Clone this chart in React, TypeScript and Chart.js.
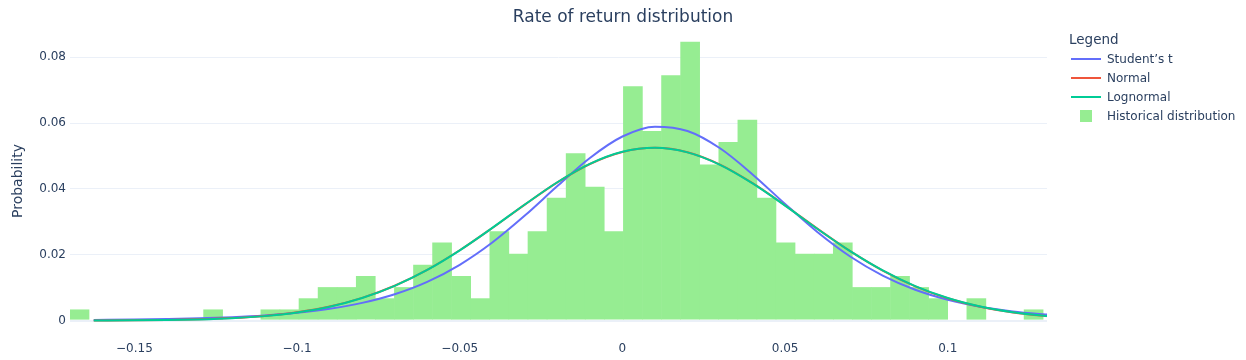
import React, { useEffect, useRef } from "react";
import { Chart, registerables } from "chart.js";

Chart.register(...registerables);

// Histogram bins (Plotly-style xbins start / size)
const binStart = -0.1698;
const binSize = 0.005865;
const histProb = [
  0.00339, 0, 0, 0, 0, 0, 0, 0.00339, 0, 0,
  0.00339, 0.00339, 0.00678, 0.01017, 0.01017, 0.01356, 0.00678, 0.01017, 0.01695, 0.02373,
  0.01356, 0.00678, 0.02712, 0.02034, 0.02712, 0.03729, 0.05085, 0.04068, 0.02712, 0.07119,
  0.05763, 0.07458, 0.08475, 0.04746, 0.05424, 0.06102, 0.03729, 0.02373, 0.02034, 0.02034,
  0.02373, 0.01017, 0.01017, 0.01356, 0.01017, 0.00678, 0, 0.00678, 0, 0,
  0.00339,
];

// Fitted curves, read at these x positions
const curveX = [
  -0.1625, -0.15, -0.14, -0.13, -0.12, -0.11, -0.1, -0.09, -0.08, -0.07,
  -0.06, -0.05, -0.04, -0.03, -0.02, -0.01, 0, 0.01, 0.02, 0.03,
  0.04, 0.05, 0.06, 0.07, 0.08, 0.09, 0.1, 0.11, 0.12, 0.13, 0.1305,
];
const studentT = [
  0.0002, 0.00032, 0.00048, 0.0007, 0.00105, 0.00158, 0.00238, 0.00358, 0.00538, 0.00801,
  0.01178, 0.01696, 0.02372, 0.0319, 0.04087, 0.04941, 0.05593, 0.05891, 0.05761, 0.05236,
  0.04442, 0.03544, 0.02684, 0.01948, 0.01368, 0.00937, 0.00632, 0.00421, 0.0028, 0.00186, 0.00182,
];
const normal = [
  0.00003, 0.00009, 0.00019, 0.00039, 0.00076, 0.00142, 0.00254, 0.00429, 0.00692, 0.0106,
  0.01543, 0.02137, 0.02815, 0.03525, 0.042, 0.04758, 0.05125, 0.0525, 0.05115, 0.04738,
  0.04174, 0.03498, 0.02787, 0.02111, 0.01522, 0.01042, 0.00679, 0.00421, 0.00248, 0.00139, 0.00135,
];
const lognormal = [
  0.00002, 0.00007, 0.00016, 0.00035, 0.00071, 0.00136, 0.00248, 0.00423, 0.00687, 0.01056,
  0.0154, 0.02136, 0.02816, 0.03528, 0.04204, 0.04762, 0.05128, 0.0525, 0.05112, 0.04733,
  0.04168, 0.03493, 0.02784, 0.02111, 0.01525, 0.01047, 0.00685, 0.00427, 0.00253, 0.00143, 0.00139,
];

const xTicks = [-0.15, -0.1, -0.05, 0, 0.05, 0.1];
const xTickLabels = ["\u22120.15", "\u22120.1", "\u22120.05", "0", "0.05", "0.1"];
const yTicks = [0, 0.02, 0.04, 0.06, 0.08];
const yTickLabels = ["0", "0.02", "0.04", "0.06", "0.08"];

const TEXT = "#2a3f5f";
const FONT = '"DejaVu Sans", Verdana, sans-serif';
const C_T = "#636efa";
const C_N = "#EF553B";
const C_L = "#00cc96";
const C_H = "#96ED92";

const legendItems = [
  { label: "Student\u2019s t", color: C_T, kind: "line" },
  { label: "Normal", color: C_N, kind: "line" },
  { label: "Lognormal", color: C_L, kind: "line" },
  { label: "Historical distribution", color: C_H, kind: "box" },
];

export default function App() {
  const ref = useRef<HTMLCanvasElement>(null);

  useEffect(() => {
    Chart.defaults.font.family = FONT;
    Chart.defaults.color = TEXT;
    const chart = new Chart(ref.current as HTMLCanvasElement, {
      type: "bar",
      data: {
        datasets: [
          {
            type: "line",
            label: "Student\u2019s t",
            data: curveX.map((x, i) => ({ x, y: studentT[i] })),
            borderColor: C_T,
            backgroundColor: C_T,
            borderWidth: 2,
            pointRadius: 0,
            cubicInterpolationMode: "monotone",
            order: 3,
          },
          {
            type: "line",
            label: "Normal",
            data: curveX.map((x, i) => ({ x, y: normal[i] })),
            borderColor: C_N,
            backgroundColor: C_N,
            borderWidth: 2,
            pointRadius: 0,
            cubicInterpolationMode: "monotone",
            order: 2,
          },
          {
            type: "line",
            label: "Lognormal",
            data: curveX.map((x, i) => ({ x, y: lognormal[i] })),
            borderColor: C_L,
            backgroundColor: C_L,
            borderWidth: 2,
            pointRadius: 0,
            cubicInterpolationMode: "monotone",
            order: 1,
          },
          {
            type: "bar",
            label: "Historical distribution",
            data: histProb.map((p, i) => ({ x: binStart + binSize * (i + 0.5), y: p })),
            backgroundColor: C_H,
            borderWidth: 0,
            barPercentage: 1.03,
            categoryPercentage: 1,
            order: 10,
          },
        ] as any,
      },
      options: {
        animation: false,
        responsive: true,
        maintainAspectRatio: false,
        events: [],
        layout: { padding: 0 },
        plugins: {
          legend: { display: false },
          tooltip: { enabled: false },
          title: {
            display: true,
            text: "Rate of return distribution",
            color: TEXT,
            font: { size: 17, weight: "normal", family: FONT },
            padding: { top: 7, bottom: 0.6 },
          },
        },
        scales: {
          x: {
            type: "linear",
            min: -0.1698,
            max: 0.1305,
            offset: false,
            grid: { display: false, drawTicks: false, offset: false },
            border: { display: false },
            afterBuildTicks: (s: any) => {
              s.ticks = xTicks.map((v) => ({ value: v }));
            },
            ticks: {
              padding: 8,
              color: TEXT,
              font: { size: 12, family: FONT },
              maxRotation: 0,
              autoSkip: false,
              callback: (_v: any, i: number) => xTickLabels[i],
            },
            afterFit: (s: any) => {
              s.height = 26;
            },
          },
          y: {
            type: "linear",
            min: -0.00407,
            max: 0.0889,
            grid: {
              color: "#EBF0F8",
              lineWidth: (ctx: any) => (ctx.tick && ctx.tick.value === 0 ? 2 : 1),
              drawTicks: false,
            },
            border: { display: false },
            afterBuildTicks: (s: any) => {
              s.ticks = yTicks.map((v) => ({ value: v }));
            },
            ticks: {
              padding: 4,
              color: TEXT,
              font: { size: 12, family: FONT },
              callback: (_v: any, i: number) => yTickLabels[i],
            },
            title: {
              display: true,
              text: "Probability",
              color: TEXT,
              font: { size: 14, family: FONT },
              padding: { top: 10, bottom: 0 },
            },
            afterFit: (s: any) => {
              s.width = 70;
            },
          },
          yPad: {
            type: "linear",
            position: "right",
            display: true,
            grid: { display: false, drawTicks: false },
            border: { display: false },
            ticks: { display: false },
            afterFit: (s: any) => {
              s.width = 199;
            },
          },
        },
      } as any,
    });
    return () => chart.destroy();
  }, []);

  const rowY = [58.5, 77.5, 96.5, 115.7];

  return (
    <div
      style={{
        position: "fixed",
        left: 0,
        top: 0,
        width: 1246,
        height: 360,
        background: "#fff",
        fontFamily: FONT,
        color: TEXT,
      }}
    >
      <div style={{ position: "absolute", left: 0, top: 0, width: 1246, height: 360 }}>
        <canvas ref={ref} />
      </div>
      <div
        style={{
          position: "absolute",
          left: 1069,
          top: 29,
          fontSize: 13.5,
          lineHeight: "20px",
          whiteSpace: "nowrap",
        }}
      >
        Legend
      </div>
      {legendItems.map((it, i) => (
        <React.Fragment key={it.label}>
          {it.kind === "line" ? (
            <div
              style={{
                position: "absolute",
                left: 1071,
                top: rowY[i] - 1,
                width: 30,
                height: 2,
                background: it.color,
              }}
            />
          ) : (
            <div
              style={{
                position: "absolute",
                left: 1080,
                top: rowY[i] - 6,
                width: 12,
                height: 12,
                background: it.color,
              }}
            />
          )}
          <div
            style={{
              position: "absolute",
              left: 1107,
              top: rowY[i] - 10,
              fontSize: 12,
              lineHeight: "20px",
              whiteSpace: "nowrap",
            }}
          >
            {it.label}
          </div>
        </React.Fragment>
      ))}
    </div>
  );
}
